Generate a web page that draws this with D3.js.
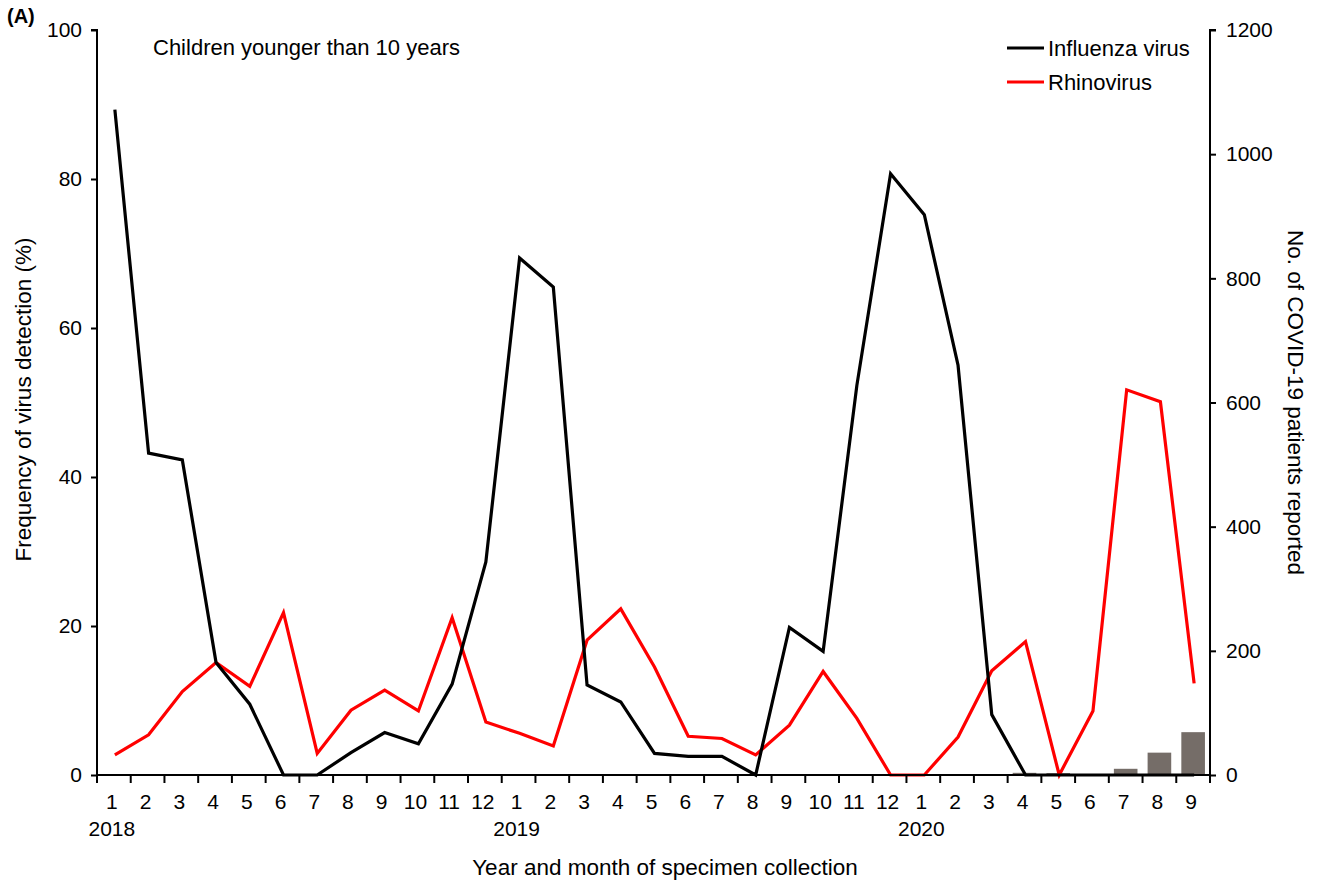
<!DOCTYPE html>
<html>
<head>
<meta charset="utf-8">
<script src="https://cdn.jsdelivr.net/npm/d3@7"></script>
<style>
  body { margin: 0; background: #fff; }
  svg text { font-family: "Liberation Sans", Arial, sans-serif; fill: #000; }
</style>
</head>
<body>
<div id="chart"></div>
<script>
// months Jan 2018 .. Sep 2020
const months = [1,2,3,4,5,6,7,8,9,10,11,12, 1,2,3,4,5,6,7,8,9,10,11,12, 1,2,3,4,5,6,7,8,9];
const years = ["2018", "2019", "2020"];

// frequency of detection (%)
const influenza = [89.3, 43.2, 42.3, 15.1, 9.5, 0, 0, 3.0, 5.7, 4.2, 12.2, 28.6,
                   69.4, 65.5, 12.1, 9.8, 2.9, 2.5, 2.5, 0, 19.8, 16.6, 52.3, 80.7,
                   75.2, 55.0, 8.1, 0, 0, 0, 0, 0, 0];
const rhinovirus = [2.7, 5.4, 11.2, 15.1, 11.9, 21.8, 2.9, 8.7, 11.4, 8.6, 21.1, 7.1,
                    5.6, 3.9, 18.1, 22.3, 14.5, 5.2, 4.9, 2.7, 6.7, 13.9, 7.6, 0,
                    0, 5.1, 14.0, 17.9, 0, 8.6, 51.7, 50.1, 12.3];

// COVID-19 patients reported (right axis)
const covid = [0,0,0,0,0,0,0,0,0,0,0,0, 0,0,0,0,0,0,0,0,0,0,0,0,
               0,0,0, 3.5, 3, 1, 10, 36, 69];

const leftTicks = [0, 20, 40, 60, 80, 100];
const rightTicks = [0, 200, 400, 600, 800, 1000, 1200];

const W = 1328, H = 884;
const margin = { left: 97, right: 118, top: 30, bottom: 109 };
const plotW = W - margin.left - margin.right;
const plotH = H - margin.top - margin.bottom;

const svg = d3.select("#chart").append("svg")
  .attr("width", W).attr("height", H);

const g = svg.append("g").attr("transform", `translate(${margin.left},${margin.top})`);

const idx = d3.range(months.length);
const x = d3.scaleBand().domain(idx).range([0, plotW]).padding(0);
const xb = d3.scaleLinear().domain([0, months.length]).range([0, plotW]);
const yL = d3.scaleLinear().domain([0, 100]).range([plotH, 0]);
const yR = d3.scaleLinear().domain([0, 1200]).range([plotH, 0]);
const cx = i => x(i) + x.bandwidth() / 2 + 1;

// bars: COVID-19 patients
const barW = x.bandwidth() * 0.7;
g.selectAll(".bar")
  .data(covid.map((v, i) => ({ i, v })).filter(d => d.v > 0))
  .enter().append("rect")
  .attr("x", d => cx(d.i) - 1 - barW / 2)
  .attr("y", d => yR(d.v))
  .attr("width", barW)
  .attr("height", d => plotH - yR(d.v))
  .attr("fill", "#756d68");

// lines
const line = d3.line().x((d, i) => cx(i)).y(d => yL(d));
g.append("path").datum(rhinovirus)
  .attr("d", line).attr("fill", "none")
  .attr("stroke", "#ff0000").attr("stroke-width", 3.2).attr("stroke-linejoin", "miter");
g.append("path").datum(influenza)
  .attr("d", line).attr("fill", "none")
  .attr("stroke", "#000").attr("stroke-width", 3.2).attr("stroke-linejoin", "miter");

// left axis
const axL = g.append("g")
  .call(d3.axisLeft(yL).tickValues(leftTicks).tickSize(6).tickPadding(9));
axL.select(".domain").attr("stroke-width", 2).attr("d", `M-6,0H0V${plotH + 8}`);
axL.selectAll(".tick line").attr("stroke-width", 2);
axL.selectAll("text").style("font-size", "21px").style("font-family", "Liberation Sans, Arial");

// right axis
const axR = g.append("g").attr("transform", `translate(${plotW},0)`)
  .call(d3.axisRight(yR).tickValues(rightTicks).tickFormat(d3.format("d")).tickSize(6).tickPadding(10));
axR.select(".domain").attr("stroke-width", 2).attr("d", `M6,0H0V${plotH + 8}`);
axR.selectAll(".tick line").attr("stroke-width", 2);
axR.selectAll("text").style("font-size", "21px").style("font-family", "Liberation Sans, Arial");

// bottom axis line and boundary ticks
g.append("line").attr("x1", 0).attr("x2", plotW).attr("y1", plotH).attr("y2", plotH)
  .attr("stroke", "#000").attr("stroke-width", 2);
g.selectAll(".xtick").data(d3.range(months.length + 1)).enter().append("line")
  .attr("x1", d => xb(d)).attr("x2", d => xb(d))
  .attr("y1", plotH).attr("y2", plotH + 8)
  .attr("stroke", "#000").attr("stroke-width", 2);

// month labels
g.selectAll(".mlab").data(months).enter().append("text")
  .attr("x", (d, i) => cx(i) - 3)
  .attr("y", plotH + 34)
  .attr("text-anchor", "middle")
  .style("font-size", "21px")
  .text(d => d);

// year labels under each January
g.selectAll(".ylab").data(years).enter().append("text")
  .attr("x", (d, i) => cx(i * 12) - 3)
  .attr("y", plotH + 61)
  .attr("text-anchor", "middle")
  .style("font-size", "21px")
  .text(d => d);

// axis titles
svg.append("text")
  .attr("x", 665)
  .attr("y", 875)
  .attr("text-anchor", "middle")
  .style("font-size", "22.5px")
  .text("Year and month of specimen collection");

svg.append("text")
  .attr("transform", `translate(31,${margin.top + plotH / 2 - 3}) rotate(-90)`)
  .attr("text-anchor", "middle")
  .style("font-size", "22.5px")
  .text("Frequency of virus detection (%)");

svg.append("text")
  .attr("transform", `translate(1288,${margin.top + plotH / 2}) rotate(90)`)
  .attr("text-anchor", "middle")
  .style("font-size", "22.5px")
  .text("No. of COVID-19 patients reported");

// panel label and subtitle
svg.append("text").attr("x", 7).attr("y", 23)
  .style("font-size", "20px").style("font-weight", "bold").text("(A)");
svg.append("text").attr("x", 153).attr("y", 55)
  .style("font-size", "22px").text("Children younger than 10 years");

// legend
const legend = [
  { name: "Influenza virus", color: "#000" },
  { name: "Rhinovirus", color: "#ff0000" }
];
const lg = svg.append("g").attr("transform", "translate(1007,48)");
legend.forEach((d, i) => {
  lg.append("line").attr("x1", 0).attr("x2", 37)
    .attr("y1", i * 34).attr("y2", i * 34)
    .attr("stroke", d.color).attr("stroke-width", 3.2);
  lg.append("text").attr("x", 41).attr("y", i * 34 + 8)
    .style("font-size", "22px").text(d.name);
});
</script>
</body>
</html>
